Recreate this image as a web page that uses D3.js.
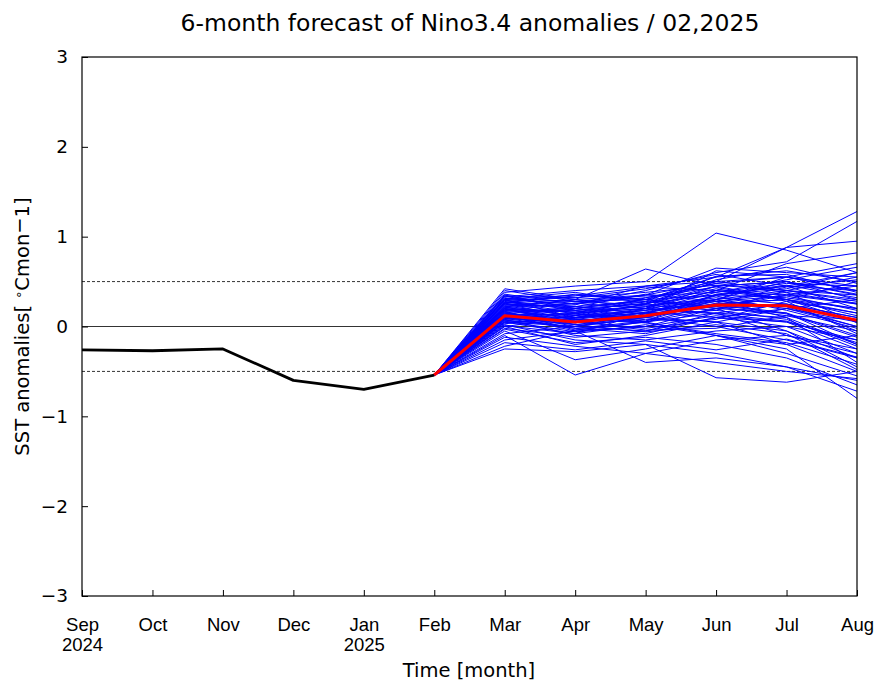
<!DOCTYPE html>
<html>
<head>
<meta charset="utf-8">
<script src="https://cdn.jsdelivr.net/npm/d3@7"></script>
<style>
  body { margin: 0; background: #fff; }
  svg { font-family: "DejaVu Sans", sans-serif; }
</style>
</head>
<body>
<svg id="chart" width="887" height="693"></svg>
<script>
// month labels along the x axis (second line = year, where shown)
const months = ["Sep", "Oct", "Nov", "Dec", "Jan", "Feb", "Mar", "Apr", "May", "Jun", "Jul", "Aug"];
const years = { Sep: "2024", Jan: "2025" };
const yTicks = [-3, -2, -1, 0, 1, 2, 3];

// observed anomalies Sep..Feb
const observed = [-0.26, -0.27, -0.25, -0.60, -0.70, -0.54];
// ensemble mean Feb..Aug (starts from the last observation)
const ensembleMean = [-0.54, 0.12, 0.05, 0.12, 0.24, 0.23, 0.07];

// ensemble members, Mar..Aug (each starts from Feb observation)
const members = [
  [0.42, 0.30, 0.64, 0.45, 0.30, 0.20],
  [0.38, 0.45, 0.50, 1.04, 0.85, 0.60],
  [0.35, 0.20, 0.30, 0.55, 0.88, 1.28],
  [0.30, 0.25, 0.40, 0.60, 0.72, 1.17],
  [0.33, 0.40, 0.45, 0.50, 0.88, 0.95],
  [0.28, 0.15, 0.20, 0.40, 0.70, 0.82],
  [0.25, 0.10, 0.15, 0.30, 0.55, 0.70],
  [0.22, 0.30, 0.35, 0.65, 0.60, 0.55],
  [0.20, 0.05, 0.10, 0.35, 0.45, 0.40],
  [0.18, 0.10, 0.25, 0.50, 0.40, 0.30],
  [0.15, 0.00, -0.05, 0.10, 0.20, 0.00],
  [0.12, -0.05, 0.00, 0.20, 0.35, 0.45],
  [0.10, 0.15, 0.20, 0.30, 0.10, -0.20],
  [0.08, -0.10, -0.15, -0.05, 0.00, -0.30],
  [0.05, 0.00, 0.10, 0.25, 0.30, 0.15],
  [0.02, -0.15, -0.20, -0.30, -0.45, -0.60],
  [0.00, -0.20, -0.10, 0.05, -0.20, -0.50],
  [-0.05, -0.37, -0.25, -0.10, -0.30, -0.55],
  [-0.10, -0.54, -0.30, -0.15, -0.10, -0.25],
  [-0.15, -0.05, -0.40, -0.35, -0.45, -0.72],
  [-0.25, -0.28, -0.20, -0.57, -0.62, -0.50],
  [-0.22, -0.04, 0.05, 0.20, 0.15, -0.10],
  [0.30, 0.35, 0.30, 0.20, 0.25, 0.10],
  [0.27, 0.20, 0.25, 0.45, 0.50, 0.35],
  [0.24, 0.28, 0.30, 0.35, 0.45, 0.60],
  [0.21, 0.12, 0.18, 0.25, 0.30, 0.50],
  [0.19, 0.08, 0.05, 0.15, 0.25, -0.05],
  [0.16, 0.18, 0.22, 0.40, 0.35, 0.25],
  [0.14, 0.02, 0.08, 0.05, -0.05, -0.35],
  [0.11, 0.06, 0.15, 0.30, 0.20, 0.05],
  [0.09, -0.02, -0.08, 0.10, 0.05, -0.15],
  [0.07, 0.10, 0.12, 0.18, 0.40, 0.55],
  [0.04, 0.04, 0.20, 0.45, 0.50, 0.30],
  [0.01, -0.08, 0.02, -0.10, -0.25, -0.80],
  [-0.02, -0.12, -0.05, 0.15, 0.10, -0.40],
  [0.36, 0.25, 0.35, 0.50, 0.55, 0.40],
  [0.32, 0.22, 0.28, 0.20, -0.05, -0.45],
  [0.29, 0.32, 0.42, 0.58, 0.45, 0.20],
  [0.26, 0.14, 0.10, 0.00, -0.15, -0.35],
  [0.23, 0.24, 0.45, 0.55, 0.62, 0.50],
  [0.20, 0.16, 0.22, 0.32, 0.25, 0.10],
  [0.17, -0.04, 0.05, 0.25, 0.15, -0.20],
  [0.13, 0.09, 0.18, 0.38, 0.48, 0.45],
  [0.10, 0.02, 0.12, 0.28, 0.38, 0.25],
  [0.06, -0.06, 0.00, 0.12, 0.05, -0.25],
  [0.03, 0.12, 0.25, 0.42, 0.30, 0.05],
  [-0.03, -0.18, -0.12, -0.20, -0.35, -0.65],
  [-0.08, 0.00, 0.10, 0.05, 0.20, 0.30],
  [0.34, 0.18, 0.05, -0.10, -0.20, -0.10],
  [0.31, 0.38, 0.26, 0.35, 0.42, 0.60],
  [0.18, 0.26, 0.32, 0.48, 0.55, 0.45],
  [0.15, 0.06, -0.02, 0.08, 0.28, 0.15],
  [0.12, 0.20, 0.30, 0.22, 0.12, -0.05],
  [0.08, 0.14, 0.06, 0.30, 0.40, 0.35],
  [0.05, -0.08, 0.15, 0.35, 0.32, 0.20],
  [0.22, 0.08, 0.16, 0.10, 0.00, -0.15],
  [0.26, 0.30, 0.20, 0.62, 0.55, 0.40],
  [0.14, 0.22, 0.36, 0.28, 0.22, 0.00],
  [-0.12, -0.22, -0.30, -0.40, -0.50, -0.58],
  [0.00, 0.10, 0.20, 0.15, -0.10, -0.30],
  [0.34, 0.32, 0.38, 0.46, 0.40, 0.28],
  [0.31, 0.28, 0.24, 0.30, 0.50, 0.36],
  [0.29, 0.18, 0.26, 0.52, 0.66, 0.48],
  [0.27, 0.34, 0.44, 0.40, 0.30, 0.12],
  [0.25, 0.22, 0.14, 0.22, 0.36, 0.26],
  [0.23, 0.12, 0.32, 0.44, 0.28, -0.08],
  [0.21, 0.26, 0.20, 0.14, 0.06, -0.18],
  [0.19, 0.16, 0.28, 0.56, 0.58, 0.38],
  [0.17, 0.20, 0.10, 0.26, 0.44, 0.52],
  [0.16, 0.04, 0.16, 0.34, 0.18, -0.02],
  [0.13, 0.14, 0.24, 0.18, 0.08, -0.22],
  [0.11, -0.02, 0.06, 0.36, 0.46, 0.32],
  [0.09, 0.06, -0.04, -0.02, 0.12, 0.08],
  [0.07, 0.00, 0.14, 0.24, 0.14, -0.12],
  [0.05, 0.08, 0.04, -0.08, -0.18, -0.42],
  [0.30, 0.10, 0.18, 0.28, 0.34, 0.18],
  [0.26, 0.36, 0.30, 0.48, 0.38, 0.04],
  [0.20, 0.02, -0.06, 0.02, -0.08, -0.48],
  [-0.18, -0.26, -0.16, -0.26, -0.14, -0.34],
  [0.40, 0.28, 0.34, 0.38, 0.52, 0.66]
];

const svg = d3.select("#chart");
const margin = { left: 82, right: 30, top: 57, bottom: 97 };
const W = +svg.attr("width"), H = +svg.attr("height");

const x = d3.scalePoint().domain(months).range([margin.left, W - margin.right]);
const y = d3.scaleLinear().domain([-3, 3]).range([H - margin.bottom, margin.top]);

const line = d3.line().x(d => x(d.m)).y(d => y(d.v));

// reference lines
svg.append("line")
  .attr("x1", x.range()[0]).attr("x2", x.range()[1])
  .attr("y1", y(0)).attr("y2", y(0))
  .attr("stroke", "#000").attr("stroke-width", 0.8);
[-0.5, 0.5].forEach(v => {
  svg.append("line")
    .attr("x1", x.range()[0]).attr("x2", x.range()[1])
    .attr("y1", y(v)).attr("y2", y(v))
    .attr("stroke", "#000").attr("stroke-width", 0.8)
    .attr("stroke-dasharray", "3,2");
});

// ensemble members
const fcMonths = months.slice(5);
const g = svg.append("g");
g.selectAll("path.member")
  .data(members)
  .join("path")
  .attr("class", "member")
  .attr("fill", "none")
  .attr("stroke", "#0000ff")
  .attr("stroke-width", 1)
  .attr("d", m => line([observed[5], ...m].map((v, i) => ({ m: fcMonths[i], v }))));

// observed
svg.append("path")
  .attr("fill", "none").attr("stroke", "#000").attr("stroke-width", 2.8)
  .attr("stroke-linejoin", "round")
  .attr("d", line(observed.map((v, i) => ({ m: months[i], v }))));

// ensemble mean
svg.append("path")
  .attr("fill", "none").attr("stroke", "#ff0000").attr("stroke-width", 3)
  .attr("stroke-linejoin", "round")
  .attr("d", line(ensembleMean.map((v, i) => ({ m: fcMonths[i], v }))));

// frame
svg.append("rect")
  .attr("x", x.range()[0]).attr("y", margin.top)
  .attr("width", x.range()[1] - x.range()[0])
  .attr("height", H - margin.bottom - margin.top)
  .attr("fill", "none").attr("stroke", "#000").attr("stroke-width", 1.2);

// axes with inward ticks
const xAxis = svg.append("g").attr("transform", `translate(0,${H - margin.bottom})`)
  .call(d3.axisBottom(x).tickSizeInner(-6).tickSizeOuter(0).tickFormat(""));
xAxis.select(".domain").remove();
xAxis.selectAll(".tick line").attr("stroke-width", 1);
xAxis.selectAll(".tick").each(function(m) {
  const t = d3.select(this).append("text")
    .attr("fill", "#000").attr("font-size", 18.5).attr("text-anchor", "middle");
  t.append("tspan").attr("x", 0).attr("y", 35).text(m);
  if (years[m]) t.append("tspan").attr("x", 0).attr("y", 55).text(years[m]);
});

const yAxis = svg.append("g").attr("transform", `translate(${margin.left},0)`)
  .call(d3.axisLeft(y).tickValues(yTicks).tickSizeInner(-6).tickSizeOuter(0)
    .tickFormat(d => d < 0 ? "\u2212" + Math.abs(d) : d));
yAxis.select(".domain").remove();
yAxis.selectAll(".tick text").attr("x", -14).attr("font-size", 18.5)
  .attr("font-family", "DejaVu Sans, sans-serif");

// title and labels
svg.append("text").attr("x", 470).attr("y", 31).attr("text-anchor", "middle")
  .attr("font-size", 23.5).text("6-month forecast of Nino3.4 anomalies / 02,2025");

svg.append("text").attr("x", 469).attr("y", 677).attr("text-anchor", "middle")
  .attr("font-size", 19.5).text("Time [month]");

const yl = svg.append("text")
  .attr("transform", `translate(29,${(margin.top + H - margin.bottom) / 2}) rotate(-90)`)
  .attr("text-anchor", "middle").attr("font-size", 19.5);
yl.append("tspan").text("SST anomalies[ ");
yl.append("tspan").attr("dy", -6).attr("font-size", 13).text("\u2218");
yl.append("tspan").attr("dy", 6).text("Cmon");
yl.append("tspan").attr("dy", -3).text("\u2212");
yl.append("tspan").attr("dy", 3).text("1]");
</script>
</body>
</html>
